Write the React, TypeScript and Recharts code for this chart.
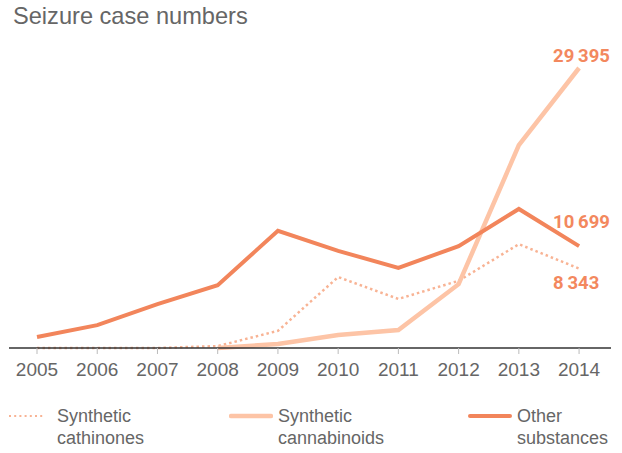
import React from 'react';
import { LineChart, Line, XAxis, YAxis, LabelList } from 'recharts';

const years = [2005, 2006, 2007, 2008, 2009, 2010, 2011, 2012, 2013, 2014];
const cathinones = [0, 0, 0, 200, 1800, 7450, 5150, 7050, 10900, 8343];
const cannabinoids = [null, null, null, 0, 420, 1370, 1890, 6700, 21300, 29395];
const otherSubstances = [1150, 2400, 4600, 6600, 12300, 10200, 8400, 10700, 14600, 10699];
const tickYears = [2005, 2006, 2007, 2008, 2009, 2010, 2011, 2012, 2013, 2014];
const legendNames = ['Synthetic\ncathinones', 'Synthetic\ncannabinoids', 'Other\nsubstances'];

const data = years.map((y, i) => ({
  year: y,
  cath: cathinones[i],
  cann: cannabinoids[i],
  other: otherSubstances[i],
}));

const C_OTHER = '#F2855B';
const C_CANN = '#FDC4A6';
const C_CATH = '#F8B394';
const C_LABEL = '#F3885E';

const fmt = (v: number) => {
  const s = String(v);
  if (s.length <= 3) return s;
  return s.slice(0, s.length - 3) + '\u2009' + s.slice(s.length - 3);
};

const makeEndLabel = (dy: number) => (props: any) => {
  const { x, y, value, index } = props;
  if (index !== years.length - 1) return null;
  return (
    <text x={x - 26} y={y + dy} fill={C_LABEL} fontSize={18.5} fontWeight="bold" fontFamily="Roboto, 'Liberation Sans', sans-serif" textAnchor="start">
      {fmt(value)}
    </text>
  );
};

const LegendItem = ({ left, textLeft, lineWidth, color, dashed, thick, label }: any) => (
  <>
    <svg style={{ position: 'absolute', left, top: 410 }} width={lineWidth} height={12}>
      <line x1={dashed ? 1 : 2} y1={6} x2={lineWidth - 2} y2={6} stroke={color} strokeWidth={thick} strokeLinecap={dashed ? 'butt' : 'round'} strokeDasharray={dashed ? '2 3.2' : undefined} />
    </svg>
    <div style={{ position: 'absolute', left: textLeft, top: 405, fontSize: 18, lineHeight: '22px', color: '#666', fontFamily: "'Liberation Sans', Arial, sans-serif", whiteSpace: 'pre' }}>
      {label}
    </div>
  </>
);

export default function App() {
  return (
    <div style={{ position: 'absolute', left: 0, top: 0, width: 622, height: 453, background: '#fff', overflow: 'hidden' }}>
      <div style={{ position: 'absolute', left: 13, top: 3, fontSize: 23.6, color: '#666', fontFamily: "'Liberation Sans', Arial, sans-serif" }}>
        Seizure case numbers
      </div>
      <div style={{ position: 'absolute', left: 0, top: 0 }}>
        <LineChart width={622} height={390} data={data} margin={{ top: 68, right: 11, left: 9, bottom: 12 }}>
          <XAxis
            dataKey="year"
            type="number"
            domain={[2004.535, 2014.53]}
            ticks={tickYears}
            allowDataOverflow
            height={30}
            axisLine={{ stroke: '#333', strokeWidth: 1.5 }}
            tickLine={{ stroke: '#bbb' }}
            tickSize={6}
            tickMargin={9}
            tick={{ fill: '#666', fontSize: 19, fontFamily: "'Liberation Sans', Arial, sans-serif" }}
          />
          <YAxis hide domain={[0, 29395]} />
          <Line dataKey="cath" stroke={C_CATH} strokeWidth={2.5} strokeDasharray="2.5 3" dot={false} isAnimationActive={false}>
            <LabelList dataKey="cath" content={makeEndLabel(20)} />
          </Line>
          <Line dataKey="cann" stroke={C_CANN} strokeWidth={4.5} dot={false} isAnimationActive={false}>
            <LabelList dataKey="cann" content={makeEndLabel(-6)} />
          </Line>
          <Line dataKey="other" stroke={C_OTHER} strokeWidth={4} dot={false} isAnimationActive={false}>
            <LabelList dataKey="other" content={makeEndLabel(-18)} />
          </Line>
        </LineChart>
      </div>
      <LegendItem left={8} textLeft={57} lineWidth={38} color={C_CATH} dashed thick={2} label={legendNames[0]} />
      <LegendItem left={229} textLeft={278} lineWidth={44} color={C_CANN} thick={4.5} label={legendNames[1]} />
      <LegendItem left={468} textLeft={517} lineWidth={44} color={C_OTHER} thick={4} label={legendNames[2]} />
    </div>
  );
}
